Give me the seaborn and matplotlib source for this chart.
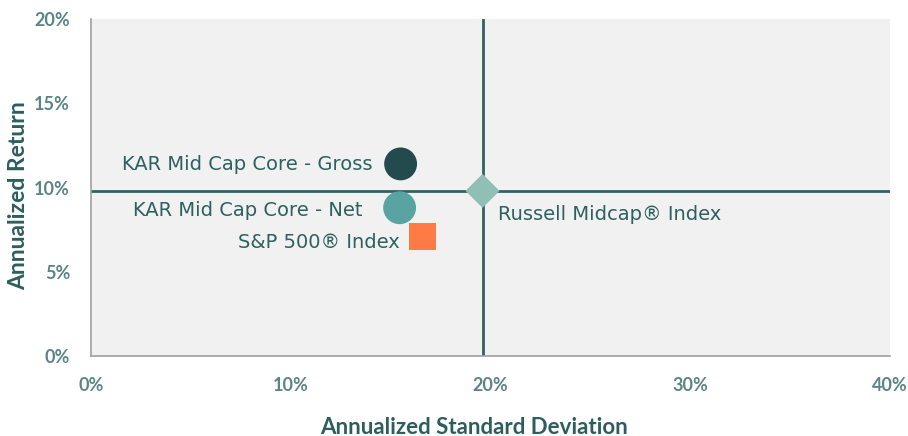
import matplotlib
matplotlib.use("Agg")
import matplotlib.pyplot as plt
import seaborn as sns
import pandas as pd
from matplotlib.ticker import FuncFormatter

# Data
names = ["KAR Mid Cap Core - Gross", "KAR Mid Cap Core - Net", "S&P 500® Index", "Russell Midcap® Index"]
std_dev = [15.5, 15.45, 16.6, 19.6]
returns = [11.4, 8.8, 7.1, 9.8]
colors = ["#234a4c", "#5aa3a3", "#ff7a45", "#8fbfb5"]
markers = ["o", "o", "s", "D"]
sizes = [560, 560, 360, 300]
label_offsets = [(-28, -1), (-37, -3), (-23, -6), (15, -24)]
label_ha = ["right", "right", "right", "left"]
x_ticks = [0, 10, 20, 30, 40]
y_ticks = [0, 5, 10, 15, 20]
bench_x = 19.6
bench_y = 9.8

sns.set_theme(style="white")
plt.rcParams['font.family'] = ['Lato', 'DejaVu Sans']

fig = plt.figure(figsize=(9.08, 4.36), dpi=100)
ax = fig.add_axes([0.1002, 0.1835, 0.8800, 0.7729])
ax.set_facecolor("#f1f1f1")

line_c = "#2f6262"
ax.axvline(bench_x, color=line_c, lw=2, zorder=1)
ax.axhline(bench_y, color=line_c, lw=2, zorder=1)

df = pd.DataFrame({"name": names, "sd": std_dev, "ret": returns})
for i, row in df.iterrows():
    sns.scatterplot(x=[row.sd], y=[row.ret], ax=ax, color=colors[i], marker=markers[i],
                    s=sizes[i], edgecolor="none", linewidth=0, zorder=3, legend=False)
    ax.annotate(row["name"], (row.sd, row.ret), xytext=label_offsets[i],
                textcoords="offset pixels", ha=label_ha[i], va="center",
                fontsize=14, color="#2d6060", family=["DejaVu Sans"])

ax.set_xlim(0, 40)
ax.set_ylim(0, 20)
ax.set_xticks(x_ticks)
ax.set_yticks(y_ticks)
ax.xaxis.set_major_formatter(FuncFormatter(lambda v, p: f"{v:.0f}%"))
ax.yaxis.set_major_formatter(FuncFormatter(lambda v, p: f"{v:.0f}%"))

for s in ["top", "right"]:
    ax.spines[s].set_visible(False)
for s in ["left", "bottom"]:
    ax.spines[s].set_color("#a0a0a0")
    ax.spines[s].set_linewidth(1.2)

ax.tick_params(axis="both", which="major", direction="out", length=6, width=1,
               color="#a0a0a0", labelcolor="#5b8585", labelsize=13)
ax.tick_params(axis="x", pad=9)
ax.tick_params(axis="y", pad=9)
for lab in ax.get_xticklabels() + ax.get_yticklabels():
    lab.set_fontweight("bold")

ax.set_xlabel("Annualized Standard Deviation", fontsize=16, fontweight="bold",
              color="#2d5e5e")
ax.set_ylabel("Annualized Return", fontsize=16.5, fontweight="bold",
              color="#2d5e5e")
ax.xaxis.set_label_coords(0.479, -0.18)
ax.yaxis.set_label_coords(-0.0776, 0.476)

fig.savefig("out.png", dpi=100)
